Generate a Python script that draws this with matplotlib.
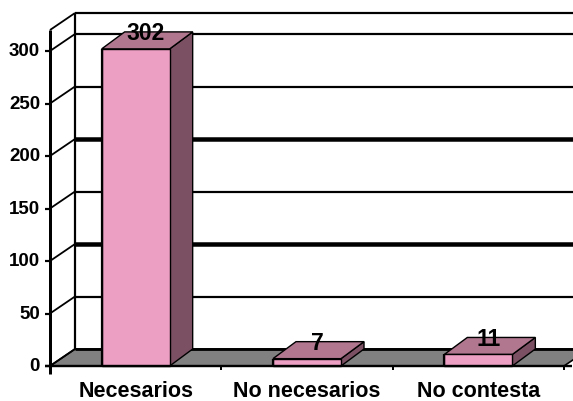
import matplotlib
matplotlib.use("Agg")
import matplotlib.pyplot as plt
from matplotlib.patches import Polygon
from matplotlib.transforms import IdentityTransform

categories = ["Necesarios", "No necesarios", "No contesta"]
values = [302, 7, 11]
yticks = [0, 50, 100, 150, 200, 250, 300]
thick_grid = [100, 200]

W, H = 573, 402
FLOOR_DX, FLOOR_DY = 25, 17
BAR_DX, BAR_DY = 23, 17
YMAX = 320
PINK, TOP, SIDE, GRAY = "#ec9fc3", "#b0778f", "#7b5062", "#808080"

plt.rcParams["font.family"] = ["Liberation Sans", "DejaVu Sans"]
fig = plt.figure(figsize=(W / 100, H / 100), dpi=100, facecolor="white")
ax = fig.add_axes([50 / W, (H - 367) / H, 514 / W, 336 / H])
ax.set_xlim(0, 3)
ax.set_ylim(0, YMAX)
ax.axis("off")
ident = IdentityTransform()


def pt(x, v, dx=0, dy=0):
    px, py = ax.transData.transform((x, v))
    return (px + dx, py + dy)


def poly(points, color, z, ec="black", lw=1.0):
    ax.add_patch(Polygon(points, closed=True, facecolor=color, edgecolor=ec, linewidth=lw,
                         transform=ident, clip_on=False, zorder=z))


def line(a, b, lw=1.5, z=2):
    ax.plot([a[0], b[0]], [a[1], b[1]], color="black", lw=lw * 0.72, transform=ident,
            clip_on=False, zorder=z, solid_capstyle="butt")


# floor
poly([pt(0, 0), pt(0, 0, FLOOR_DX, FLOOR_DY), pt(3, 0, FLOOR_DX, FLOOR_DY), pt(3, 0)], GRAY, 1, lw=1.2)
# back wall gridlines, connectors and front axis ticks
for v in yticks[1:] + [YMAX]:
    lw = 4.5 if v in thick_grid else 2.2
    line(pt(0, v, FLOOR_DX, FLOOR_DY), pt(3, v, FLOOR_DX, FLOOR_DY), lw=lw)
for v in yticks + [YMAX]:
    line(pt(0, v), pt(0, v, FLOOR_DX, FLOOR_DY), lw=1.8)
line(pt(0, 0, FLOOR_DX, FLOOR_DY), pt(0, YMAX, FLOOR_DX, FLOOR_DY), lw=2.2)
line(pt(0, 0, FLOOR_DX, FLOOR_DY), pt(3, 0, FLOOR_DX, FLOOR_DY), lw=2.8)
line(pt(0, 0, 0, -8), pt(0, YMAX), lw=3, z=6)
line(pt(0, 0, -5, 0), pt(3, 0, 8, 0), lw=2.4, z=6)
for v in yticks:
    line(pt(0, v, -5, 0), pt(0, v), lw=2.2, z=6)
    ax.text(*pt(0, v, -10, 0), str(v), transform=ident, ha="right", va="center",
            fontsize=13.5, fontweight="bold", color="black", zorder=7)
for i in range(1, 4):
    line(pt(i, 0, 0, -4), pt(i, 0), lw=2, z=6)

# bars
BAR_W = 68 / 171.3
for i, (name, val) in enumerate(zip(categories, values)):
    x0, x1 = i + 0.5 - BAR_W / 2, i + 0.5 + BAR_W / 2
    poly([pt(x1, 0), pt(x1, 0, BAR_DX, BAR_DY), pt(x1, val, BAR_DX, BAR_DY), pt(x1, val)], SIDE, 3)
    poly([pt(x0, val), pt(x0, val, BAR_DX, BAR_DY), pt(x1, val, BAR_DX, BAR_DY), pt(x1, val)], TOP, 3)
    poly([pt(x0, 0), pt(x0, val), pt(x1, val), pt(x1, 0)], PINK, 4)
    line(pt(x0, 0), pt(x0, val), lw=2.2, z=5)
    ax.text(*pt(i + 0.5, val, 10, 16), str(val), transform=ident, ha="center", va="center",
            fontsize=16.5, fontweight="bold", color="black", zorder=8)
    ax.text(*pt(i + 0.5, 0, 0, -25), name, transform=ident, ha="center", va="center",
            fontsize=15.5, fontweight="bold", color="black", zorder=7)

fig.savefig("out.png", dpi=100, facecolor="white")
